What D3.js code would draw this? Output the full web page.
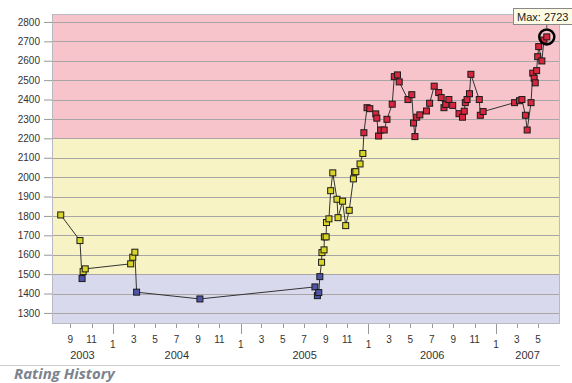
<!DOCTYPE html>
<html><head><meta charset="utf-8">
<script src="https://cdn.jsdelivr.net/npm/d3@7"></script>
<style>
html,body{margin:0;padding:0;background:#fff;}
svg{display:block;}
</style></head>
<body>
<script>
const dates = ["2003-08-05","2003-09-29","2003-10-05","2003-10-08","2003-10-14",
"2004-02-21","2004-02-27","2004-03-04","2004-03-09","2004-09-06",
"2005-08-01","2005-08-08","2005-08-12","2005-08-15","2005-08-20","2005-08-21","2005-08-27","2005-08-28","2005-09-02","2005-09-03",
"2005-09-10","2005-09-15","2005-09-21","2005-10-03","2005-10-06","2005-10-19","2005-10-28","2005-11-07","2005-11-19","2005-11-22",
"2005-11-26","2005-12-08","2005-12-16","2005-12-19","2005-12-28",
"2006-01-05","2006-01-22","2006-01-25","2006-01-30","2006-02-05","2006-02-15","2006-02-23","2006-03-10","2006-03-16","2006-03-25",
"2006-03-30","2006-04-24","2006-05-05","2006-05-10","2006-05-14","2006-05-19","2006-05-28","2006-06-16","2006-06-25","2006-07-08",
"2006-07-21","2006-07-28","2006-08-05","2006-08-10","2006-08-19","2006-08-30","2006-09-17","2006-09-27","2006-10-02","2006-10-05",
"2006-10-10","2006-10-17","2006-10-21","2006-11-14","2006-11-17","2006-11-25",
"2007-02-23","2007-03-09","2007-03-16","2007-03-26","2007-03-31","2007-04-11","2007-04-16","2007-04-20","2007-04-23","2007-04-27",
"2007-04-30","2007-05-03","2007-05-12","2007-05-18","2007-05-26"];
const ratings = [1805,1673,1477,1513,1527,
1553,1587,1613,1407,1372,
1434,1389,1405,1487,1561,1611,1625,1692,1692,1766,
1785,1930,2022,1886,1791,1876,1750,1829,1991,2027,
2028,2068,2122,2229,2358,
2353,2326,2304,2212,2243,2243,2298,2376,2518,2527,
2491,2400,2425,2279,2209,2309,2321,2341,2381,2469,
2436,2410,2358,2375,2400,2370,2327,2309,2340,2384,
2400,2430,2530,2400,2319,2338,
2384,2394,2400,2319,2243,2384,2536,2510,2486,2549,
2621,2673,2599,2707,2723];
const yTickValues = [1300,1400,1500,1600,1700,1800,1900,2000,2100,2200,2300,2400,2500,2600,2700,2800];
const bandEdges = [1500, 2200];
const bandFill = ["#d9d9ee", "#f8f3c4", "#f7c4cb"];
const markerFill = ["#4e54a8", "#d9d526", "#d8263e"];
const years = [2003, 2004, 2005, 2006, 2007];
const maxLabel = "Max: 2723";
const titleText = "Rating History";

(function () {
const W = 572, H = 383;
const parse = d3.timeParse("%Y-%m-%d");
const data = dates.map((d, i) => ({date: parse(d), v: ratings[i]}));

const svg = d3.select("body").append("svg").attr("width", W).attr("height", H);
const pL = 52, pR = 559, pT = 14, pB = 323;
const x = d3.scaleTime().domain([new Date(2003,6,11), new Date(2007,5,30)]).range([pL, pR]);
const y = d3.scaleLinear().domain([1248, 2841]).range([pB, pT]);
const band = v => v < bandEdges[0] ? 0 : (v < bandEdges[1] ? 1 : 2);

const bandRanges = [[y.domain()[0], bandEdges[0]], [bandEdges[0], bandEdges[1]], [bandEdges[1], y.domain()[1]]];
svg.selectAll("rect.band").data(bandRanges).join("rect")
  .attr("x", pL).attr("width", pR - pL)
  .attr("y", d => y(d[1])).attr("height", d => y(d[0]) - y(d[1]))
  .attr("fill", (d, i) => bandFill[i]);

svg.selectAll("line.grid").data(yTickValues).join("line")
  .attr("x1", pL).attr("x2", pR)
  .attr("y1", d => Math.round(y(d)) + 0.5).attr("y2", d => Math.round(y(d)) + 0.5)
  .attr("stroke", "#a9a5a5").attr("stroke-width", 1);

svg.append("rect").attr("x", pL + 0.5).attr("y", pT + 0.5).attr("width", pR - pL).attr("height", pB - pT)
  .attr("fill", "none").attr("stroke", "#b9b9c4");

const yAxis = d3.axisLeft(y).tickValues(yTickValues).tickFormat(d3.format("d")).tickSize(8).tickPadding(4);
const gy = svg.append("g").attr("transform", `translate(${pL},0)`).call(yAxis);
gy.select(".domain").remove();
gy.selectAll(".tick line").attr("stroke", "#999");
gy.selectAll(".tick text").attr("font-family", "Liberation Sans, Arial, sans-serif").attr("font-size", 10).attr("fill", "#333");

const xTicks = d3.timeMonth.every(2).range(x.domain()[0], x.domain()[1]);
const gx = svg.append("g");
gx.selectAll("line").data(xTicks).join("line")
  .attr("x1", d => Math.round(x(d)) + 0.5).attr("x2", d => Math.round(x(d)) + 0.5)
  .attr("y1", pB + 1).attr("y2", d => d.getMonth() === 0 ? pB + 11 : pB + 5)
  .attr("stroke", "#999");
gx.selectAll("text.m").data(xTicks).join("text").attr("class", "m")
  .attr("x", d => x(d)).attr("y", d => d.getMonth() === 0 ? 348 : 343)
  .attr("text-anchor", "middle")
  .attr("font-family", "Liberation Sans, Arial, sans-serif").attr("font-size", 10).attr("fill", "#333")
  .text(d => d.getMonth() + 1);
gx.selectAll("text.year").data(years).join("text").attr("class", "year")
  .attr("x", yr => {
    const a = Math.max(x(new Date(yr, 0, 1)), pL);
    const b = Math.min(x(new Date(yr + 1, 0, 1)), pR);
    return (a + b) / 2;
  })
  .attr("y", 359).attr("text-anchor", "middle")
  .attr("font-family", "Liberation Sans, Arial, sans-serif").attr("font-size", 11).attr("fill", "#333")
  .text(d => d);

svg.append("path").datum(data)
  .attr("d", d3.line().x(d => x(d.date)).y(d => y(d.v)))
  .attr("fill", "none").attr("stroke", "#333").attr("stroke-width", 1);

const s = 6;
svg.selectAll("rect.pt").data(data).join("rect").attr("class", "pt")
  .attr("x", d => x(d.date) - s / 2).attr("y", d => y(d.v) - s / 2)
  .attr("width", s).attr("height", s)
  .attr("fill", d => markerFill[band(d.v)])
  .attr("stroke", "#1a1a1a").attr("stroke-width", 1);

const maxD = data.reduce((a, b) => b.v > a.v ? b : a);
const mx = x(maxD.date), my = y(maxD.v);
svg.append("circle").attr("cx", mx).attr("cy", my).attr("r", 7.5)
  .attr("fill", "none").attr("stroke", "#000").attr("stroke-width", 2.5);
svg.append("line").attr("x1", mx).attr("x2", mx).attr("y1", my - 8).attr("y2", 25).attr("stroke", "#555");
svg.append("rect").attr("x", 513.5).attr("y", 8.5).attr("width", 70).attr("height", 16)
  .attr("fill", "#fdfbe3").attr("stroke", "#888");
svg.append("text").attr("x", 517).attr("y", 20.5)
  .attr("font-family", "Liberation Sans, Arial, sans-serif").attr("font-size", 11).attr("fill", "#222")
  .text(maxLabel);

svg.append("line").attr("x1", 0).attr("x2", 560).attr("y1", 365.5).attr("y2", 365.5).attr("stroke", "#ccc");
svg.append("text").attr("x", 14).attr("y", 378.5)
  .attr("font-family", "Open Sans, sans-serif").attr("font-weight", "bold").attr("font-style", "italic")
  .attr("font-size", 15).attr("fill", "#7d838e").text(titleText);
})();
</script>
</body></html>
